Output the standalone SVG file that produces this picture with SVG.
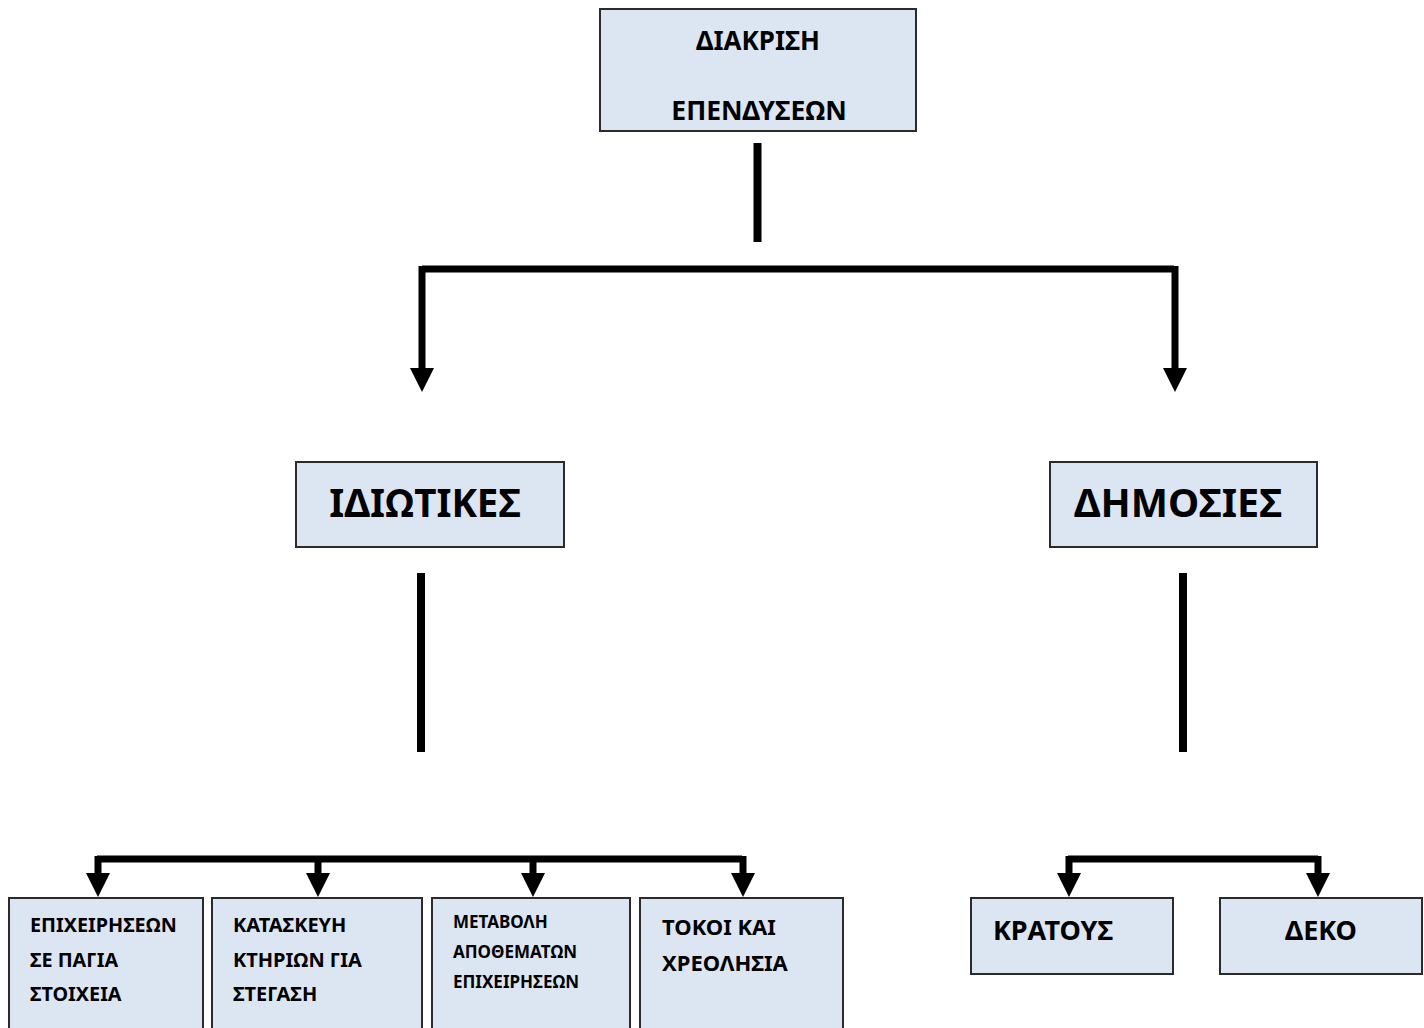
<svg xmlns="http://www.w3.org/2000/svg" width="1424" height="1028" viewBox="0 0 1424 1028">
<style>
.box{fill:#dce6f2;stroke:#2b2b2b;stroke-width:2}
.t{font-family:"Noto Sans","Open Sans","DejaVu Sans",sans-serif;font-weight:bold;fill:#000}
.ln{stroke:#000;stroke-width:7;fill:none}
.bar{stroke:#000;stroke-width:8;fill:none}
</style>
<defs>
<marker id="ah" markerUnits="userSpaceOnUse" markerWidth="26" markerHeight="26" viewBox="0 0 26 26" refX="1" refY="13" orient="auto">
<path d="M0,1 L24,13 L0,25 Z" fill="#000"/>
</marker>
</defs>
<g id="connectors">
<line class="bar" x1="757.5" y1="143" x2="757.5" y2="242"/>
<path class="ln" d="M422,269 H1174"/>
<path class="ln" d="M422,266 V369" marker-end="url(#ah)"/>
<path class="ln" d="M1175,266 V369" marker-end="url(#ah)"/>
<line class="bar" x1="421" y1="573" x2="421" y2="752"/>
<line class="bar" x1="1183" y1="573" x2="1183" y2="752"/>
<path class="ln" d="M97,859 H742"/>
<path class="ln" d="M98,856 V874" marker-end="url(#ah)"/>
<path class="ln" d="M318,856 V874" marker-end="url(#ah)"/>
<path class="ln" d="M533,856 V874" marker-end="url(#ah)"/>
<path class="ln" d="M743,856 V874" marker-end="url(#ah)"/>
<path class="ln" d="M1068,859 H1318"/>
<path class="ln" d="M1069,856 V874" marker-end="url(#ah)"/>
<path class="ln" d="M1318,856 V874" marker-end="url(#ah)"/>
</g>
<g id="n-diakrisi">
<rect class="box" x="600" y="9" width="316" height="122"/>
<text class="t" x="758" y="50" font-size="26" text-anchor="middle">ΔΙΑΚΡΙΣΗ</text>
<text class="t" x="759" y="120" font-size="26.5" text-anchor="middle">ΕΠΕΝΔΥΣΕΩΝ</text>
</g>
<g id="n-idiotikes">
<rect class="box" x="296" y="462" width="268" height="85"/>
<text class="t" x="425" y="517" font-size="38.5" text-anchor="middle">ΙΔΙΩΤΙΚΕΣ</text>
</g>
<g id="n-dimosies">
<rect class="box" x="1050" y="462" width="267" height="85"/>
<text class="t" x="1178" y="517" font-size="39.5" text-anchor="middle">ΔΗΜΟΣΙΕΣ</text>
</g>
<g id="n-epix">
<rect class="box" x="9" y="898" width="194" height="140"/>
<text class="t" x="30" y="932" font-size="19.8">ΕΠΙΧΕΙΡΗΣΕΩΝ</text>
<text class="t" x="30" y="967" font-size="19.8">ΣΕ ΠΑΓΙΑ</text>
<text class="t" x="30" y="1001" font-size="19.8">ΣΤΟΙΧΕΙΑ</text>
</g>
<g id="n-kataskevi">
<rect class="box" x="212" y="898" width="210" height="140"/>
<text class="t" x="233" y="932" font-size="20">ΚΑΤΑΣΚΕΥΗ</text>
<text class="t" x="233" y="967" font-size="20">ΚΤΗΡΙΩΝ ΓΙΑ</text>
<text class="t" x="233" y="1001" font-size="20">ΣΤΕΓΑΣΗ</text>
</g>
<g id="n-metavoli">
<rect class="box" x="432" y="898" width="198" height="140"/>
<text class="t" x="453" y="928" font-size="17">ΜΕΤΑΒΟΛΗ</text>
<text class="t" x="453" y="958" font-size="17">ΑΠΟΘΕΜΑΤΩΝ</text>
<text class="t" x="453" y="988" font-size="17">ΕΠΙΧΕΙΡΗΣΕΩΝ</text>
</g>
<g id="n-tokoi">
<rect class="box" x="640" y="898" width="203" height="140"/>
<text class="t" x="662" y="935" font-size="22">ΤΟΚΟΙ ΚΑΙ</text>
<text class="t" x="662" y="971" font-size="22">ΧΡΕΟΛΗΣΙΑ</text>
</g>
<g id="n-kratous">
<rect class="box" x="971" y="898" width="202" height="76"/>
<text class="t" x="993" y="940" font-size="27">ΚΡΑΤΟΥΣ</text>
</g>
<g id="n-deko">
<rect class="box" x="1220" y="898" width="202" height="76"/>
<text class="t" x="1321" y="940" font-size="27" text-anchor="middle">ΔΕΚΟ</text>
</g>
</svg>
